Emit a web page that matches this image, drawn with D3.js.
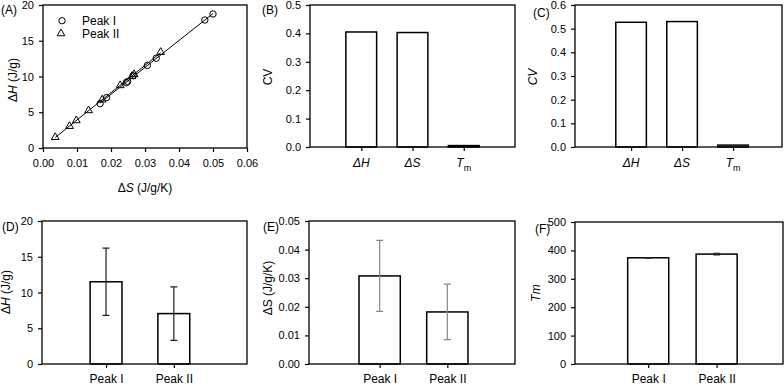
<!DOCTYPE html>
<html>
<head>
<meta charset="utf-8">
<script src="https://cdn.jsdelivr.net/npm/d3@7"></script>
<style>
  body { margin: 0; background: #fff; }
  text { font-family: "Liberation Sans", Arial, sans-serif; fill: #000; }
</style>
</head>
<body>
<script>
// ---- data ----
var peak1S = [0.0168, 0.0187, 0.0245, 0.0249, 0.0265, 0.0307, 0.0333, 0.0476, 0.0500];
var peak1H = [6.2, 7.05, 9.15, 9.3, 10.1, 11.55, 12.55, 17.9, 18.75];
var peak2S = [0.0036, 0.0078, 0.0098, 0.0134, 0.0174, 0.0227, 0.0262, 0.0268, 0.0346];
var peak2H = [1.5, 3.05, 3.85, 5.25, 6.75, 8.75, 10.05, 10.3, 13.4];

var cvCats = ["ΔH", "ΔS", "T"];
var cvB = [0.405, 0.403, 0.005];
var cvC = [0.527, 0.530, 0.008];

var peakCats = ["Peak I", "Peak II"];
var dhMean = [11.5, 7.05], dhErr = [4.7, 3.75];
var dsMean = [0.0308, 0.0182], dsErr = [0.0124, 0.0097];
var tmMean = [374, 387], tmErr = [1, 3];

var aXTicks = [0, 0.01, 0.02, 0.03, 0.04, 0.05, 0.06];
var aYTicks = [0, 5, 10, 15, 20];
var bYTicks = [0, 0.1, 0.2, 0.3, 0.4, 0.5];
var cYTicks = [0, 0.1, 0.2, 0.3, 0.4, 0.5, 0.6];
var dYTicks = [0, 5, 10, 15, 20];
var eYTicks = [0, 0.01, 0.02, 0.03, 0.04, 0.05];
var fYTicks = [0, 100, 200, 300, 400, 500];

var svg = d3.select("body").append("svg")
  .attr("width", 784).attr("height", 387);

// draws left axis, returns y scale
function frame(box, yDom, yTicks, yFmt) {
  var y = d3.scaleLinear().domain(yDom).range([box.b, box.t]);
  var g = svg.append("g").attr("transform", "translate(" + box.l + ",0)");
  g.call(d3.axisLeft(y).tickValues(yTicks).tickFormat(d3.format(yFmt))
      .tickSize(4).tickSizeOuter(0).tickPadding(5));
  g.select(".domain").remove();
  g.selectAll(".tick line").attr("stroke", "#000").attr("stroke-width", 1.2);
  g.selectAll(".tick text").style("font-size", "11px").attr("fill", "#000");
  return y;
}
function border(box) {
  svg.append("rect").attr("x", box.l).attr("y", box.t)
    .attr("width", box.r - box.l).attr("height", box.b - box.t)
    .attr("fill", "none").attr("stroke", "#000").attr("stroke-width", 1.3);
}
function bottomAxis(box, x, vals, fmt, pad, size) {
  var g = svg.append("g").attr("transform", "translate(0," + box.b + ")");
  g.call(d3.axisBottom(x).tickValues(vals).tickFormat(fmt)
      .tickSize(4).tickSizeOuter(0).tickPadding(pad));
  g.select(".domain").remove();
  g.selectAll(".tick line").attr("stroke", "#000").attr("stroke-width", 1.2);
  g.selectAll(".tick text").style("font-size", size).attr("fill", "#000");
  return g;
}
function ylabel(x, y, parts) {
  var t = svg.append("text").attr("transform", "translate(" + x + "," + y + ") rotate(-90)")
    .attr("text-anchor", "middle").style("font-size", "12px");
  parts.forEach(function(p) {
    t.append("tspan").text(p[0]).style("font-style", p[1] ? "italic" : "normal");
  });
}
function plabel(x, y, s) {
  svg.append("text").attr("x", x).attr("y", y).text(s).style("font-size", "12px");
}

// ---- (A) scatter ----
var boxA = {l: 43, r: 247, t: 5, b: 148};
var xA = d3.scaleLinear().domain([0, 0.06]).range([boxA.l, boxA.r]);
var yA = frame(boxA, [0, 20], aYTicks, "d");
bottomAxis(boxA, xA, aXTicks, d3.format(".2f"), 7, "11px");

function fitLine(xs, ys) {
  var mx = d3.mean(xs), my = d3.mean(ys);
  var sxy = d3.sum(xs, function(v, i) { return (v - mx) * (ys[i] - my); });
  var sxx = d3.sum(xs, function(v) { return (v - mx) * (v - mx); });
  var k = sxy / sxx, c = my - k * mx;
  var x0 = d3.min(xs), x1 = d3.max(xs);
  return [[x0, k * x0 + c], [x1, k * x1 + c]];
}
var line = d3.line().x(function(d) { return xA(d[0]); }).y(function(d) { return yA(d[1]); });
[[peak1S, peak1H], [peak2S, peak2H]].forEach(function(s) {
  svg.append("path").attr("d", line(fitLine(s[0], s[1])))
    .attr("stroke", "#000").attr("stroke-width", 1).attr("fill", "none");
});
var tri = d3.symbol().type(d3.symbolTriangle).size(26);
svg.selectAll(".p2").data(peak2S).enter().append("path")
  .attr("d", tri)
  .attr("transform", function(d, i) { return "translate(" + xA(d) + "," + yA(peak2H[i]) + ")"; })
  .attr("fill", "none").attr("stroke", "#000").attr("stroke-width", 1);
svg.selectAll(".p1").data(peak1S).enter().append("circle")
  .attr("cx", function(d) { return xA(d); })
  .attr("cy", function(d, i) { return yA(peak1H[i]); })
  .attr("r", 3.2).attr("fill", "none").attr("stroke", "#000").attr("stroke-width", 1);
border(boxA);
// legend
svg.append("circle").attr("cx", 62).attr("cy", 20.7).attr("r", 3.2)
  .attr("fill", "none").attr("stroke", "#000");
svg.append("path").attr("d", tri).attr("transform", "translate(61,33.5)")
  .attr("fill", "none").attr("stroke", "#000");
svg.append("text").attr("x", 82).attr("y", 25).text(peakCats[0]).style("font-size", "12px");
svg.append("text").attr("x", 82).attr("y", 38).text(peakCats[1]).style("font-size", "12px");
var xt = svg.append("text").attr("x", 145).attr("y", 192).attr("text-anchor", "middle").style("font-size", "12px");
xt.append("tspan").text("Δ");
xt.append("tspan").text("S").style("font-style", "italic");
xt.append("tspan").text(" (J/g/K)");
ylabel(17, 80, [["Δ", 0], ["H", 1], [" (J/g)", 0]]);
plabel(1, 14, "(A)");

// ---- CV panels (B), (C) ----
function cvPanel(box, xDom, vals, yDom, yTicks, ital) {
  var x = d3.scaleLinear().domain(xDom).range([box.l, box.r]);
  var y = frame(box, yDom, yTicks, ".1f");
  svg.selectAll(null).data(vals).enter().append("rect")
    .attr("x", function(d, i) { return x(i + 1 - 0.3); })
    .attr("width", function() { return x(0.6) - x(0); })
    .attr("y", function(d) { return y(d); })
    .attr("height", function(d) { return y(0) - y(d); })
    .attr("fill", "#fff").attr("stroke", "#000").attr("stroke-width", 1.5);
  bottomAxis(box, x, [1, 2, 3], function() { return ""; }, 8, "12px");
  cvCats.forEach(function(c, i) {
    var t = svg.append("text").attr("x", x(i + 1)).attr("y", box.b + 20)
      .attr("text-anchor", "middle").style("font-size", "12px").style("font-style", "italic");
    t.append("tspan").text(c);
    if (i === 2) t.append("tspan").text("m").attr("dy", 4).style("font-size", "9px").style("font-style", "normal");
  });
  border(box);
  ylabel(box.l - 38, (box.t + box.b) / 2 + 1, [["CV", ital]]);
}
cvPanel({l: 310, r: 515, t: 5, b: 147}, [0, 4], cvB, [0, 0.5], bYTicks, 0);
cvPanel({l: 575, r: 782, t: 5, b: 147}, [-0.1, 3.96], cvC, [0, 0.6], cYTicks, 1);
plabel(262, 14, "(B)");
plabel(533, 17, "(C)");

// ---- mean +/- error panels (D), (E), (F) ----
function errPanel(box, xDom, bw, means, errs, yDom, yTicks, yFmt, errCol) {
  var x = d3.scaleLinear().domain(xDom).range([box.l, box.r]);
  var y = frame(box, yDom, yTicks, yFmt);
  svg.selectAll(null).data(means).enter().append("rect")
    .attr("x", function(d, i) { return x(i + 1 - bw / 2); })
    .attr("width", x(bw) - x(0))
    .attr("y", function(d) { return y(d); })
    .attr("height", function(d) { return y(0) - y(d); })
    .attr("fill", "#fff").attr("stroke", "#000").attr("stroke-width", 1.5);
  means.forEach(function(m, i) {
    var cx = x(i + 1), y0 = y(m - errs[i]), y1 = y(m + errs[i]);
    var p = "M" + cx + "," + y0 + "V" + y1 +
      "M" + (cx - 3.5) + "," + y0 + "H" + (cx + 3.5) +
      "M" + (cx - 3.5) + "," + y1 + "H" + (cx + 3.5);
    svg.append("path").attr("d", p).attr("stroke", errCol).attr("stroke-width", 1.2).attr("fill", "none");
  });
  bottomAxis(box, x, [1, 2], function(d) { return peakCats[d - 1]; }, 6, "12px");
  border(box);
}
errPanel({l: 42, r: 247, t: 221, b: 364}, [0.055, 3.08], 0.47, dhMean, dhErr, [0, 20], dYTicks, "d", "#222");
errPanel({l: 309, r: 515, t: 221, b: 364}, [-0.044, 3.0], 0.61, dsMean, dsErr, [0, 0.05], eYTicks, ".2f", "#888");
errPanel({l: 575, r: 783, t: 222, b: 364}, [-0.07, 2.97], 0.6, tmMean, tmErr, [0, 500], fYTicks, "d", "#222");
ylabel(10, 292, [["Δ", 0], ["H", 1], [" (J/g)", 0]]);
ylabel(272, 288, [["ΔS (J/g/K)", 0]]);
ylabel(540, 293, [["Tm", 1]]);
plabel(2, 231, "(D)");
plabel(263, 231, "(E)");
plabel(535, 233, "(F)");
</script>
</body>
</html>
